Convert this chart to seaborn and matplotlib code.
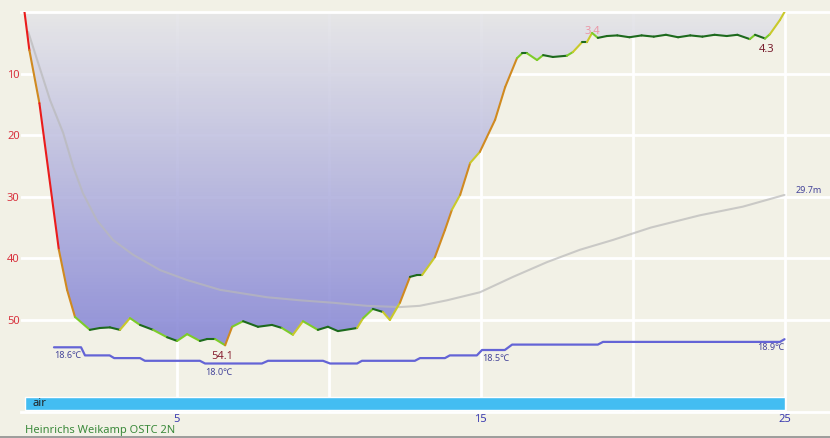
import numpy as np
import pandas as pd
import matplotlib
matplotlib.use("Agg")
import matplotlib.pyplot as plt
import seaborn as sns
from matplotlib.collections import LineCollection
from matplotlib.colors import LinearSegmentedColormap

# dive profile: time (min) and depth (m)
time_min = [0.0, 0.16, 0.49, 1.13, 1.40, 1.66, 2.15, 2.48, 2.81, 3.14, 3.47, 3.80, 4.23,
            4.69, 5.02, 5.35, 5.77, 6.00, 6.27, 6.60, 6.83, 7.19, 7.68, 8.14, 8.47, 8.83,
            9.16, 9.65, 9.98, 10.31, 10.94, 11.14, 11.46, 11.79, 12.02, 12.35, 12.68, 12.91,
            13.08, 13.50, 13.83, 14.06, 14.33, 14.66, 14.98, 15.48, 15.81, 16.20, 16.37,
            16.53, 16.86, 17.06, 17.38, 17.84, 18.04, 18.34, 18.50, 18.67, 18.86, 19.16,
            19.50, 19.90, 20.30, 20.70, 21.10, 21.50, 21.90, 22.30, 22.70, 23.10, 23.45,
            23.86, 24.03, 24.36, 24.52, 24.85, 25.0]
depth_m = [0.0, 6.2, 14.8, 38.6, 45.1, 49.5, 51.6, 51.3, 51.2, 51.6, 49.7, 50.8, 51.6,
           52.8, 53.4, 52.3, 53.4, 53.1, 53.1, 54.1, 51.1, 50.2, 51.1, 50.8, 51.3, 52.4,
           50.2, 51.6, 51.1, 51.8, 51.3, 49.7, 48.2, 48.7, 50.0, 47.2, 43.0, 42.7,
           42.7, 39.8, 35.4, 32.1, 29.7, 24.5, 22.7, 17.5, 12.2, 7.5, 6.7,
           6.7, 7.8, 7.0, 7.3, 7.1, 6.5, 4.9, 4.9, 3.4, 4.2, 3.9,
           3.8, 4.1, 3.8, 4.0, 3.7, 4.1, 3.8, 4.0, 3.7, 3.9, 3.7,
           4.4, 3.7, 4.3, 3.6, 1.3, 0.0]
depth_label_times = [6.60, 18.67, 24.36]

# running mean depth
mean_time = [0.12, 0.84, 1.27, 1.60, 1.92, 2.38, 2.91, 3.57, 4.46, 5.34, 6.43, 7.97, 9.06,
             10.15, 11.26, 12.35, 13.0, 13.9, 14.98, 16.07, 17.19, 18.27, 19.36, 20.6,
             22.22, 23.63, 25.0]
mean_depth = [3.2, 14.3, 19.6, 25.1, 29.4, 33.8, 37.0, 39.4, 41.9, 43.5, 45.1, 46.3, 46.8,
              47.2, 47.7, 47.9, 47.7, 46.8, 45.5, 43.0, 40.6, 38.6, 37.0, 35.0,
              33.0, 31.6, 29.7]

# water temperature
temp_time = [0.97, 1.86, 1.99, 2.80, 2.95, 3.80, 3.96, 5.77, 5.94, 7.81, 8.01, 9.82, 10.05,
             10.94, 11.10, 12.84, 13.01, 13.83, 13.99, 14.88, 15.05, 15.80, 16.04, 18.86,
             19.03, 24.85, 25.0]
temp_c = [18.6, 18.6, 18.3, 18.3, 18.2, 18.2, 18.1, 18.1, 18.0, 18.0, 18.1, 18.1, 18.0,
          18.0, 18.1, 18.1, 18.2, 18.2, 18.3, 18.3, 18.5, 18.5, 18.7, 18.7,
          18.8, 18.8, 18.9]
temp_label_times = [0.97, 5.94, 15.05, 25.0]

gas_names = ["air"]
gas_start = [0.0]
gas_end = [25.0]

depth_ticks = [10, 20, 30, 40, 50]
time_ticks = [5, 10, 15, 20, 25]
time_ticklabels = ["5", "", "15", "", "25"]
computer = "Heinrichs Weikamp OSTC 2N"

BG = "#f2f1e6"
sns.set_theme(style="whitegrid", rc={
    "figure.facecolor": BG, "axes.facecolor": BG,
    "grid.color": "white", "grid.linewidth": 2.0,
})
plt.rcParams["font.family"] = ["Noto Sans", "DejaVu Sans"]

W, H = 830, 438
fig = plt.figure(figsize=(W / 100, H / 100), dpi=100)
ax = fig.add_axes([21 / W, 1 - 412 / H, (W - 21) / W, 400 / H])

px_min = 30.4
px_m = 6.16
ax.set_xlim((21 - 24.5) / px_min, (W - 24.5) / px_min)
ax.set_ylim(400 / px_m, 0)

# gradient fill under the profile
cmap = LinearSegmentedColormap.from_list("depthfill", ["#e6e6e8", "#8686d6"])
grad = np.linspace(0, 1, 256).reshape(-1, 1)
im = ax.imshow(grad, extent=[0, max(time_min), max(depth_m), 0], aspect="auto",
               cmap=cmap, alpha=0.9, zorder=1, interpolation="bilinear")
poly = ax.fill_between(time_min, 0, depth_m, facecolor="none", edgecolor="none")
im.set_clip_path(poly.get_paths()[0], transform=ax.transData)

# mean depth line
sns.lineplot(x=mean_time, y=mean_depth, ax=ax, color="#b9b9b9", alpha=0.7,
             lw=1.5, sort=False, zorder=3)
ax.annotate(f"{mean_depth[-1]}m", (mean_time[-1], mean_depth[-1]),
            xytext=(8, 3), textcoords="offset points", fontsize=6.5,
            color="#44449a", va="center", ha="left")

# profile coloured by vertical speed
t = np.array(time_min)
d = np.array(depth_m)
pts = np.column_stack([t, d])
segs = np.stack([pts[:-1], pts[1:]], axis=1)
speed = np.abs(np.diff(d) / np.diff(t))
speed_colors = ["#1d6a1d", "#7dcc2a", "#c9c92a", "#d08a20", "#ea1c1c"]
seg_colors = [speed_colors[i] for i in np.digitize(speed, [2.2, 5, 9, 30])]
ax.add_collection(LineCollection(segs, colors=seg_colors, linewidths=1.5,
                                 capstyle="round", zorder=5))

for lt in depth_label_times:
    i = int(np.argmin(np.abs(t - lt)))
    if d[i] == d.max():
        ax.annotate(f"{d[i]:.1f}", (t[i], d[i]), xytext=(-2, -4), textcoords="offset points",
                    fontsize=8, color="#8a2434", ha="center", va="top")
    elif d[i] < 3.5:
        ax.annotate(f"{d[i]:.1f}", (t[i], d[i]), xytext=(0, -3), textcoords="offset points",
                    fontsize=8, color="#eb97a6", ha="center", va="bottom")
    else:
        ax.annotate(f"{d[i]:.1f}", (t[i], d[i]), xytext=(1, -4), textcoords="offset points",
                    fontsize=8, color="#7a2030", ha="center", va="top")

# gas bar
gas = pd.DataFrame({"gas": gas_names, "start": gas_start, "end": gas_end})
for _, row in gas.iterrows():
    ax.barh(63.55, row["end"] - row["start"], left=row["start"], height=2.1,
            color="#43bdf2", zorder=2)
    ax.text(row["start"] + 0.27, 63.55, row["gas"], fontsize=8, color="#202020",
            va="center", ha="left", zorder=3)

# temperature on its own scale
ax2 = ax.twinx()
sns.lineplot(x=temp_time, y=temp_c, ax=ax2, color="#6464d6", lw=1.6, sort=False)
ax2.set_ylim(18.6 - (412 - 347.3) / 27, 18.6 + (347.3 - 12) / 27)
ax2.set_xlim(ax.get_xlim())
ax2.axis("off")
for lt in temp_label_times:
    i = int(np.argmin(np.abs(np.array(temp_time) - lt)))
    ha = "right" if i == len(temp_time) - 1 else "left"
    ax2.annotate(f"{temp_c[i]:.1f}\u2103", (temp_time[i], temp_c[i]),
                 xytext=(0, -3), textcoords="offset points", fontsize=6.5,
                 color="#44449a", ha=ha, va="top")

# axes styling
ax.set_yticks(depth_ticks)
ax.set_yticklabels([str(v) for v in depth_ticks])
ax.set_xticks(time_ticks)
ax.set_xticklabels(time_ticklabels)
ax.tick_params(axis="y", length=0, pad=1, labelsize=8, labelcolor="#d8323e")
ax.tick_params(axis="x", length=0, pad=1.5, labelsize=8, labelcolor="#3a3ab0")
ax.set_axisbelow(True)
ax.grid(True, color="white", lw=2)
for side in ["left", "right"]:
    ax.spines[side].set_visible(False)
for side in ["top", "bottom"]:
    ax.spines[side].set_color("white")
    ax.spines[side].set_linewidth(2)
ax.set_xlabel("")
ax.set_ylabel("")

fig.text(25 / W, 1 - 430 / H, computer, fontsize=8, color="#3b8a3b", va="center", ha="left")
fig.add_artist(plt.Line2D([0, 1], [1 - 436.5 / H] * 2, transform=fig.transFigure,
                          color="#8e8e8e", lw=1.2))

fig.savefig("out.png", dpi=100, facecolor=BG)
